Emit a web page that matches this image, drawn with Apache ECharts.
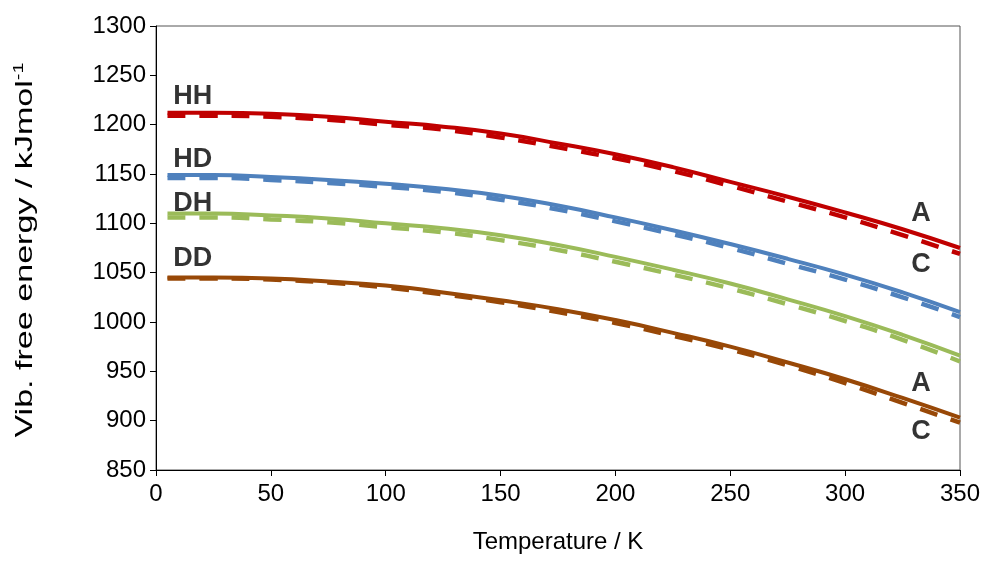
<!DOCTYPE html>
<html>
<head>
<meta charset="utf-8">
<script src="https://cdn.jsdelivr.net/npm/echarts@6/dist/echarts.min.js"></script>
<style>html,body{margin:0;padding:0;background:#fff;}#c{width:987px;height:574px;}</style>
</head>
<body>
<div id="c"></div>
<script>
const temps = [5, 25, 50, 75, 100, 125, 150, 175, 200, 225, 250, 275, 300, 325, 350];
const HH_A = [1212,1212,1211,1208,1203,1198,1191,1181,1170,1157,1142,1127,1111,1094,1075];
const HH_C = [1209,1209,1208,1205,1200,1195,1187,1177,1166,1153,1138,1122,1106,1088,1069];
const HD_A = [1149,1149,1147,1144,1140,1135,1128,1118,1106,1093,1079,1064,1048,1030,1010];
const HD_C = [1146,1146,1144,1141,1137,1132,1124,1114,1102,1089,1075,1059,1043,1025,1005];
const DH_A = [1110,1110,1108,1105,1100,1095,1088,1078,1066,1053,1039,1023,1006,987,966];
const DH_C = [1106,1106,1104,1101,1096,1091,1083,1073,1061,1048,1034,1018,1001,982,960];
const DD_A = [1045,1045,1044,1041,1037,1030,1022,1013,1002,989,975,959,942,923,903];
const DD_C = [1044,1044,1043,1040,1035,1028,1020,1010,999,986,972,956,938,918,898];
const xTicks = [0, 50, 100, 150, 200, 250, 300, 350];
const yTicks = [850, 900, 950, 1000, 1050, 1100, 1150, 1200, 1250, 1300];
const xTitle = 'Temperature / K';
const yTitle = 'Vib. free energy / kJmol{sup|-1}';
// annotation labels: [T, value, text, fontSize]
const annotations = [
  [16, 1229, 'HH', 27],
  [16, 1164.5, 'HD', 27],
  [16, 1120, 'DH', 27],
  [16, 1064.5, 'DD', 27],
  [333, 1110, 'A', 27],
  [333, 1058, 'C', 27],
  [333, 938, 'A', 27],
  [333, 888.5, 'C', 27]
];

const colors = {HH:'#C00000', HD:'#4F81BD', DH:'#9BBB59', DD:'#984807'};
const font = 'Liberation Sans, Arial, sans-serif';
function pts(vals){ return temps.map((t,i)=>[t, vals[i]]); }
function solid(name, vals, col){
  return {name: name, type:'line', data: pts(vals), smooth: true, symbol:'none', z: 3,
    lineStyle:{color: col, width: 4}};
}
function dashed(name, vals, col){
  return {name: name, type:'line', data: pts(vals), smooth: true, symbol:'none', z: 2,
    lineStyle:{color: col, width: 4.5, type:[18,14], cap:'butt'}};
}
const series = [
  dashed('HH C', HH_C, colors.HH), solid('HH A', HH_A, colors.HH),
  dashed('HD C', HD_C, colors.HD), solid('HD A', HD_A, colors.HD),
  dashed('DH C', DH_C, colors.DH), solid('DH A', DH_A, colors.DH),
  dashed('DD C', DD_C, colors.DD), solid('DD A', DD_A, colors.DD),
  {type:'scatter', symbolSize: 0, z: 5, silent: true,
   data: annotations.map(a => ({value:[a[0], a[1]], label:{show:true, position:'inside', formatter: a[2],
     fontSize: a[3], fontWeight: 'bold', color:'#000', fontFamily: font}}))}
];

const chart = echarts.init(document.getElementById('c'), null, {renderer:'canvas'});
chart.setOption({
  backgroundColor: '#fff',
  animation: false,
  grid: {left: 156, right: 27, top: 26, bottom: 104, show: true, borderColor: '#555', borderWidth: 1, backgroundColor: 'transparent'},
  graphic: [{
    type: 'text', rotation: Math.PI / 2, x: 25, y: 250,
    scaleX: 1.42, scaleY: 1,
    style: {text: yTitle, fill: '#000', font: '24px Liberation Sans, Arial, sans-serif',
      align: 'center', verticalAlign: 'middle',
      rich: {sup: {fontSize: 14, fill: '#000', verticalAlign: 'top', padding: [0,0,12,0], fontFamily: 'Liberation Sans, Arial, sans-serif'}}}
  }],
  xAxis: {
    type: 'value', min: xTicks[0], max: xTicks[xTicks.length-1], interval: 50,
    name: xTitle, nameLocation: 'middle', nameGap: 60,
    nameTextStyle: {fontSize: 24, color: '#000', fontFamily: font},
    axisLine: {show: true, lineStyle: {color: '#000', width: 1}},
    axisTick: {show: true, inside: false, length: 6, lineStyle: {color: '#000'}},
    axisLabel: {fontSize: 24, color: '#000', margin: 12, fontFamily: font, formatter: v => String(v)},
    splitLine: {show: false}
  },
  yAxis: {
    type: 'value', min: yTicks[0], max: yTicks[yTicks.length-1], interval: 50,
    axisLine: {show: true, lineStyle: {color: '#000', width: 1}},
    axisTick: {show: true, inside: false, length: 6, lineStyle: {color: '#000'}},
    axisLabel: {fontSize: 24, color: '#000', margin: 10, fontFamily: font, formatter: v => String(v)},
    splitLine: {show: false}
  },
  series: series
});
</script>
</body>
</html>
